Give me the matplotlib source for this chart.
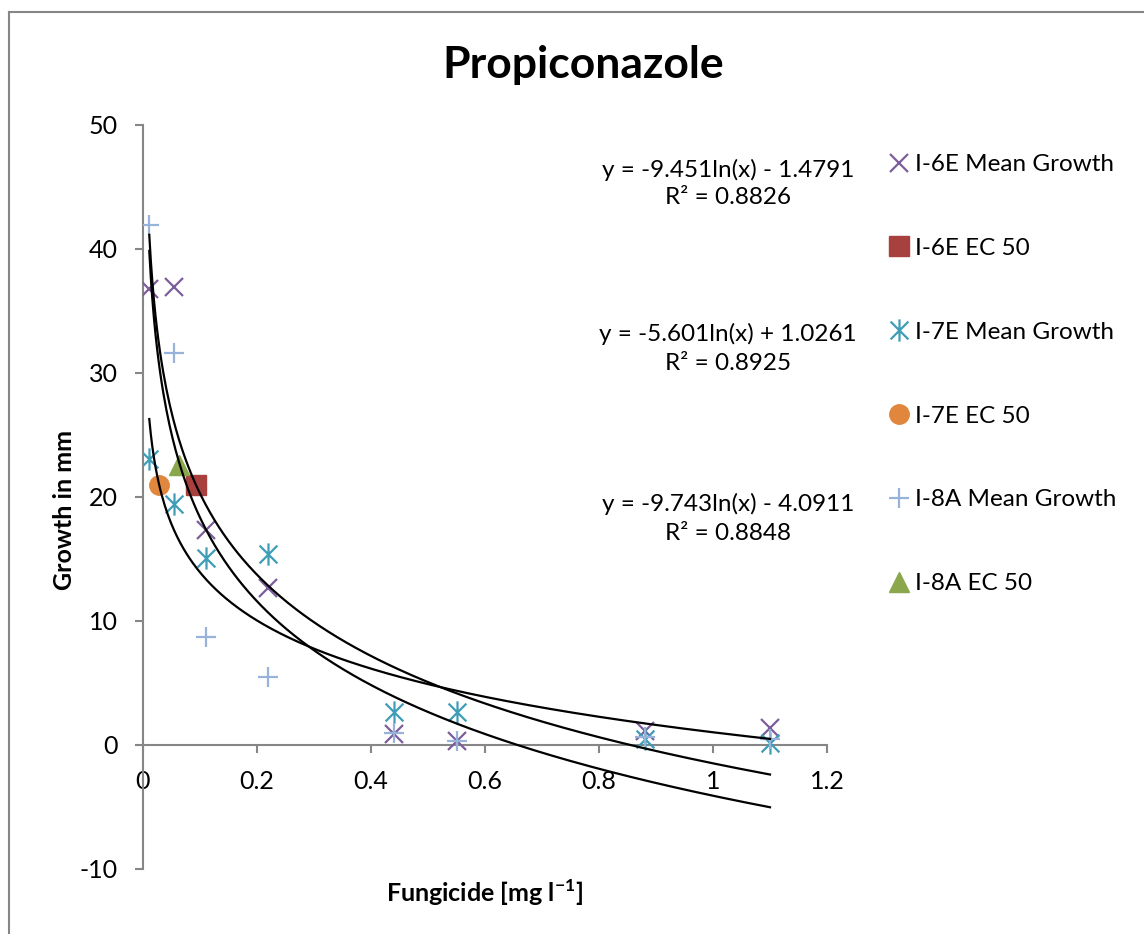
import numpy as np
import matplotlib
matplotlib.use("Agg")
import matplotlib.pyplot as plt
from matplotlib.lines import Line2D
from matplotlib.path import Path

plt.rcParams['font.family'] = ['Lato', 'DejaVu Sans']
plt.rcParams['axes.unicode_minus'] = False

# ---- data ----
conc = [0.011, 0.055, 0.11, 0.22, 0.44, 0.55, 0.88, 1.1]
i6e_growth = [36.8, 36.9, 17.3, 12.7, 0.9, 0.3, 1.1, 1.4]
i7e_growth = [23.1, 19.4, 15.1, 15.4, 2.7, 2.7, 0.45, 0.2]
i8a_growth = [41.9, 31.6, 8.7, 5.5, 1.0, 0.3, 0.65, 0.5]
i6e_ec50 = (0.093, 21.0)
i7e_ec50 = (0.028, 21.0)
i8a_ec50 = (0.064, 22.6)
# log trendline coefficients: y = a*ln(x) + b, R^2
trend_i6e = (-9.451, -1.4791, 0.8826)
trend_i7e = (-5.601, 1.0261, 0.8925)
trend_i8a = (-9.743, -4.0911, 0.8848)

xticks = [0, 0.2, 0.4, 0.6, 0.8, 1, 1.2]
yticks = [-10, 0, 10, 20, 30, 40, 50]

W, H = 1144, 934
fig = plt.figure(figsize=(W / 100, H / 100), dpi=100)
ax = fig.add_axes([143 / W, 1 - 869 / H, (827 - 143) / W, (869 - 125) / H])

c_x = '#7B5E9B'
c_sq = '#A8413E'
c_ast = '#3F9DB6'
c_ci = '#E0873D'
c_pl = '#98B3DA'
c_tr = '#8AA84B'

ast = Path([(0, -1), (0, 1), (-0.8, -0.8), (0.8, 0.8), (-0.8, 0.8), (0.8, -0.8)],
           [Path.MOVETO, Path.LINETO, Path.MOVETO, Path.LINETO, Path.MOVETO, Path.LINETO])

h1, = ax.plot(conc, i6e_growth, ls='none', marker='x', ms=13, mew=1.6, color=c_x,
              label='I-6E Mean Growth', zorder=3)
h2, = ax.plot([i6e_ec50[0]], [i6e_ec50[1]], ls='none', marker='s', ms=14, color=c_sq,
              mec=c_sq, label='I-6E EC 50', zorder=3)
h3, = ax.plot(conc, i7e_growth, ls='none', marker=ast, ms=16, mew=1.6, color=c_ast,
              label='I-7E Mean Growth', zorder=3)
h4, = ax.plot([i7e_ec50[0]], [i7e_ec50[1]], ls='none', marker='o', ms=14, color=c_ci,
              mec=c_ci, label='I-7E EC 50', zorder=3)
h5, = ax.plot(conc, i8a_growth, ls='none', marker='+', ms=15, mew=1.6, color=c_pl,
              label='I-8A Mean Growth', zorder=3)
h6, = ax.plot([i8a_ec50[0]], [i8a_ec50[1]], ls='none', marker='^', ms=15, color=c_tr,
              mec=c_tr, label='I-8A EC 50', zorder=3)

xs = np.linspace(min(conc), max(conc), 400)
for a, b, r2 in (trend_i6e, trend_i7e, trend_i8a):
    ax.plot(xs, a * np.log(xs) + b, color='black', lw=1.6, zorder=4)

ax.set_xlim(0, 1.2)
ax.set_ylim(-10, 50)
ax.set_xticks(xticks)
ax.set_xticklabels([f'{t:g}' for t in xticks])
ax.set_yticks(yticks)
ax.spines['left'].set_position(('data', 0))
ax.spines['bottom'].set_position(('data', 0))
ax.spines['right'].set_visible(False)
ax.spines['top'].set_visible(False)
for s in ('left', 'bottom'):
    ax.spines[s].set_color('#868686')
    ax.spines[s].set_linewidth(1.5)
ax.tick_params(axis='both', direction='out', length=6, width=1.5, color='#868686',
               labelsize=18, labelcolor='black')
ax.tick_params(axis='x', pad=12)
ax.tick_params(axis='y', pad=12)
ax.set_facecolor('none')

# axis titles
fig.text(485 / W, 1 - 893 / H, 'Fungicide [mg l$^{\\mathregular{-1}}$]', ha='center', va='center',
         fontsize=18, fontweight='bold')
fig.text(65 / W, 1 - 510 / H, 'Growth in mm', ha='center', va='center', rotation=90,
         fontsize=18, fontweight='bold')
fig.text(583 / W, 1 - 65 / H, 'Propiconazole', ha='center', va='center',
         fontsize=32, fontweight='bold')

# trendline equations
eq_pos = [(728, 170, 198), (728, 334, 363), (728, 504, 533)]
for (a, b, r2), (px, py1, py2) in zip((trend_i6e, trend_i7e, trend_i8a), eq_pos):
    sign = '+' if b >= 0 else '-'
    fig.text(px / W, 1 - py1 / H, f'y = {a:g}ln(x) {sign} {abs(b):g}', ha='center',
             va='center', fontsize=17.5)
    fig.text(px / W, 1 - py2 / H, f'R² = {r2:g}', ha='center', va='center', fontsize=17.5)

leg = fig.legend(handles=[h1, h2, h3, h4, h5, h6], loc='upper left',
                 bbox_to_anchor=(889 / W, 1 - 154 / H), frameon=False, fontsize=17.5,
                 handlelength=0.8, handletextpad=0.25, labelspacing=2.585,
                 borderaxespad=0, borderpad=0)

# outer border
fig.add_artist(Line2D([9 / W, 9 / W], [0, 1 - 12 / H], color='#868686', lw=1.5))
fig.add_artist(Line2D([9 / W, 1], [1 - 12 / H, 1 - 12 / H], color='#868686', lw=1.5))

fig.savefig('out.png', dpi=100)
